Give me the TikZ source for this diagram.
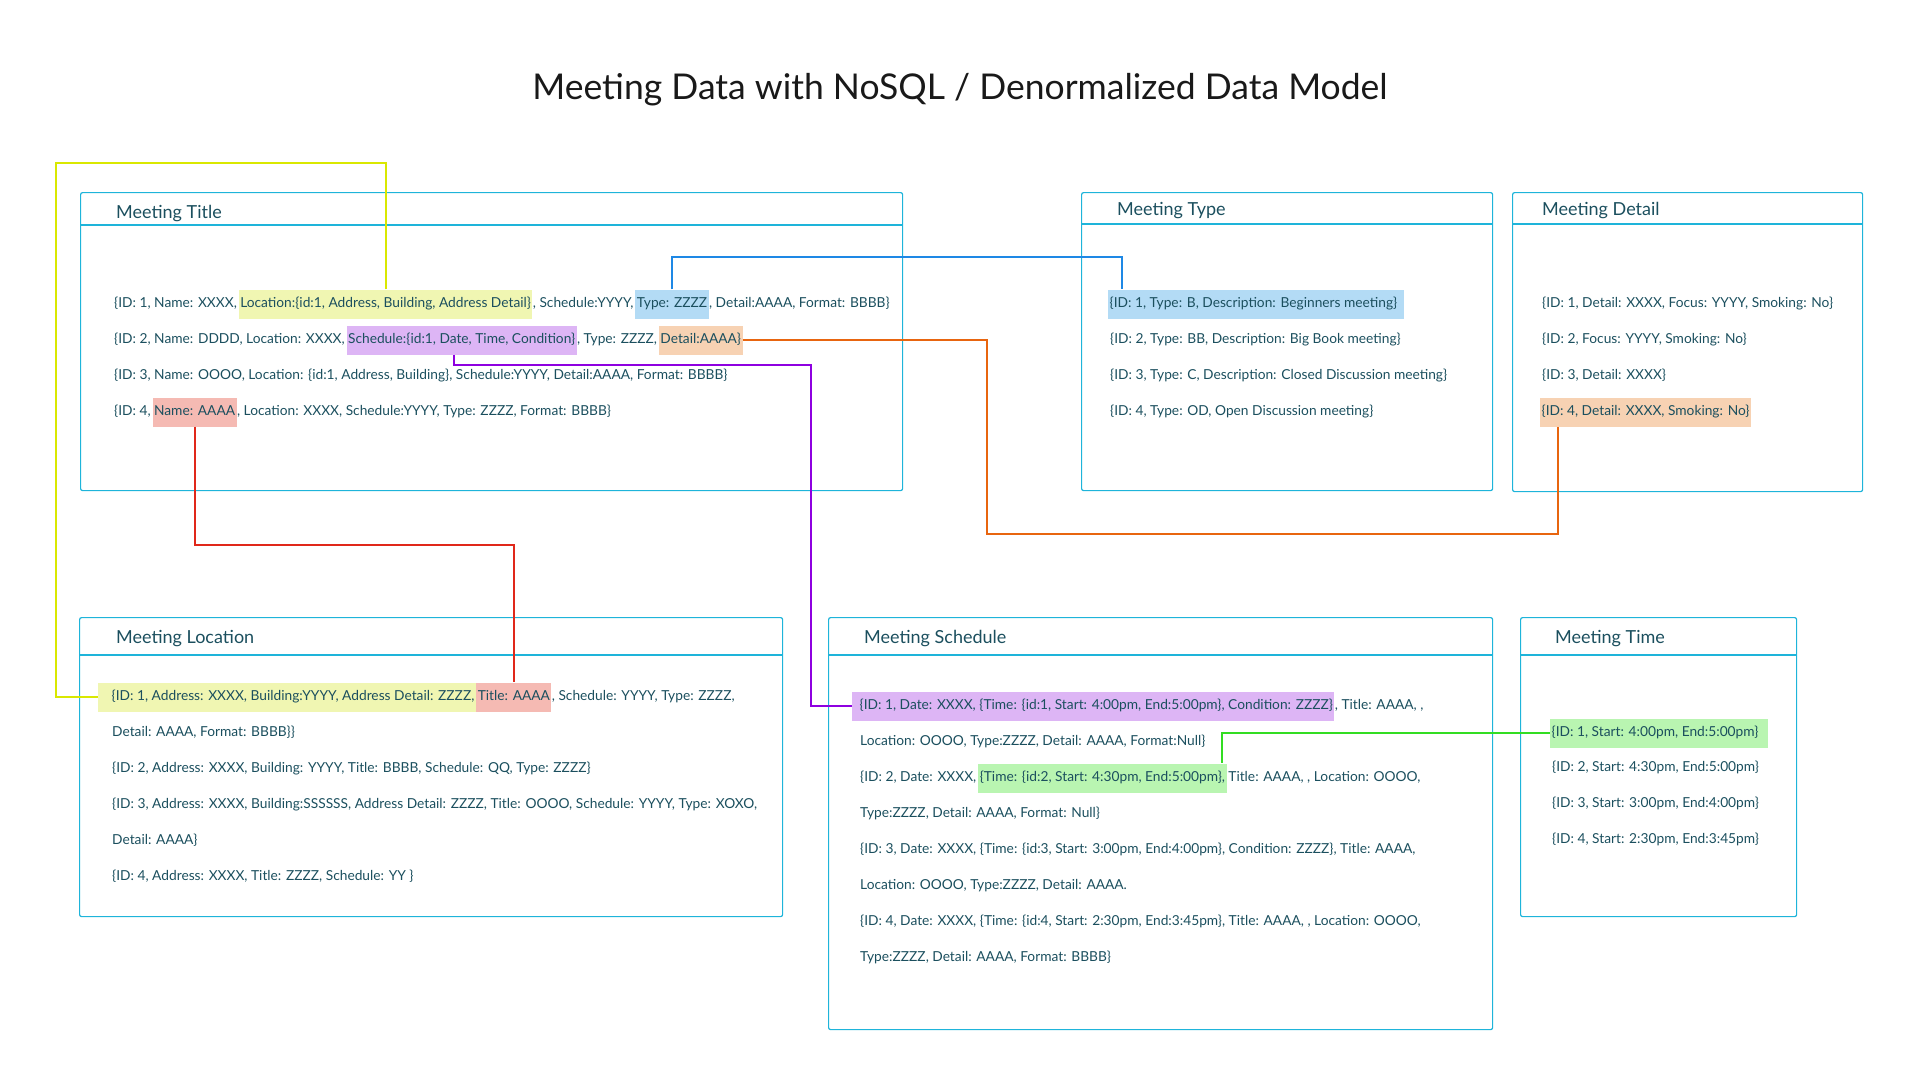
\documentclass[tikz,border=0pt]{standalone}
\usepackage{fontspec}
\setmainfont{Lato}
\usepackage{xcolor}
\usepackage{tikz}
\usetikzlibrary{positioning}

\definecolor{ink}{HTML}{1B4F5E}
\definecolor{frame}{HTML}{1EB4DA}
\definecolor{hlYellow}{HTML}{F0F6B2}
\definecolor{hlBlue}{HTML}{B3DBF5}
\definecolor{hlPurple}{HTML}{DDB5F5}
\definecolor{hlPeach}{HTML}{F7D2B3}
\definecolor{hlRed}{HTML}{F5BAB3}
\definecolor{hlGreen}{HTML}{B9F5B1}
\definecolor{lnYellow}{HTML}{D9E800}
\definecolor{lnBlue}{HTML}{1E88E5}
\definecolor{lnPurple}{HTML}{8E00E0}
\definecolor{lnOrange}{HTML}{E8650F}
\definecolor{lnRed}{HTML}{E0281A}
\definecolor{lnGreen}{HTML}{33DD22}

\begin{document}
\begin{tikzpicture}[
    x=1pt, y=-1pt,
    tablebox/.style={draw=frame, line width=1.2pt, rounded corners=2pt, anchor=north west, inner sep=0pt},
    boxtitle/.style={anchor=west, inner sep=0pt, font=\fontsize{18}{22}\selectfont, text=ink},
    rowtext/.style={anchor=west, inner sep=0pt, text height=11pt, text depth=3.5pt,
                    font=\fontsize{13.75}{17}\selectfont, text=ink},
    hilite/.style={rowtext, inner xsep=1.5pt, inner ysep=7.25pt},
    connector/.style={line width=1.8pt}
]
    \useasboundingbox (0,0) rectangle (1920,1080);

    \node[font=\fontsize{35.5}{42}\selectfont, text=black!90] (title) at (960,90)
        {Meeting Data with NoSQL / Denormalized Data Model};

    % tables
    \node[tablebox, minimum width=822pt, minimum height=298pt] (titleBox)    at (80,192)   {};
    \node[tablebox, minimum width=411pt, minimum height=298pt] (typeBox)     at (1081,192) {};
    \node[tablebox, minimum width=350pt, minimum height=299pt] (detailBox)   at (1512,192) {};
    \node[tablebox, minimum width=703pt, minimum height=299pt] (locationBox) at (79,617)   {};
    \node[tablebox, minimum width=664pt, minimum height=412pt] (scheduleBox) at (828,617)  {};
    \node[tablebox, minimum width=276pt, minimum height=299pt] (timeBox)     at (1520,617) {};
    \draw[frame, line width=1.2pt] ([yshift=-33pt]titleBox.north west)    -- ([yshift=-33pt]titleBox.north east);
    \draw[frame, line width=1.2pt] ([yshift=-32pt]typeBox.north west)     -- ([yshift=-32pt]typeBox.north east);
    \draw[frame, line width=1.2pt] ([yshift=-32pt]detailBox.north west)   -- ([yshift=-32pt]detailBox.north east);
    \draw[frame, line width=1.2pt] ([yshift=-38pt]locationBox.north west) -- ([yshift=-38pt]locationBox.north east);
    \draw[frame, line width=1.2pt] ([yshift=-38pt]scheduleBox.north west) -- ([yshift=-38pt]scheduleBox.north east);
    \draw[frame, line width=1.2pt] ([yshift=-38pt]timeBox.north west)     -- ([yshift=-38pt]timeBox.north east);

    \node[boxtitle] (titleHead)    at (116,214)  {Meeting Title};
    \node[boxtitle] (typeHead)     at (1117,211) {Meeting Type};
    \node[boxtitle] (detailHead)   at (1542,211) {Meeting Detail};
    \node[boxtitle] (locationHead) at (116,639)  {Meeting Location};
    \node[boxtitle] (scheduleHead) at (864,639)  {Meeting Schedule};
    \node[boxtitle] (timeHead)     at (1555,639) {Meeting Time};

    % Meeting Title rows
    \node[rowtext] (t1a) at (114,304) {\{ID: 1, Name: XXXX,};
    \node[hilite, fill=hlYellow, right=1.5pt of t1a] (tLoc) {Location:\{id:1, Address, Building, Address Detail\}};
    \node[rowtext, right=0pt of tLoc] (t1b) {, Schedule:YYYY,};
    \node[hilite, fill=hlBlue, right=1.5pt of t1b] (tType) {Type: ZZZZ};
    \node[rowtext, right=0pt of tType] (t1c) {, Detail:AAAA, Format: BBBB\}};
    \node[rowtext] (t2a) at (114,340) {\{ID: 2, Name: DDDD, Location: XXXX,};
    \node[hilite, fill=hlPurple, right=1.5pt of t2a] (tSched) {Schedule:\{id:1, Date, Time, Condition\}};
    \node[rowtext, right=0pt of tSched] (t2b) {, Type: ZZZZ,};
    \node[hilite, fill=hlPeach, right=1.5pt of t2b] (tDet) {Detail:AAAA\}};
    \node[rowtext] (t3) at (114,376) {\{ID: 3, Name: OOOO, Location: \{id:1, Address, Building\}, Schedule:YYYY, Detail:AAAA, Format: BBBB\}};
    \node[rowtext] (t4a) at (114,412) {\{ID: 4,};
    \node[hilite, fill=hlRed, right=1.5pt of t4a] (tName) {Name: AAAA};
    \node[rowtext, right=0pt of tName] (t4b) {, Location: XXXX, Schedule:YYYY, Type: ZZZZ, Format: BBBB\}};

    % Meeting Type rows
    \node[hilite, fill=hlBlue] (ty1) at (1108,304) {\{ID: 1, Type: B, Description: Beginners meeting\}\hspace*{5pt}};
    \node[rowtext] (ty2) at (1110,340) {\{ID: 2, Type: BB, Description: Big Book meeting\}};
    \node[rowtext] (ty3) at (1110,376) {\{ID: 3, Type: C, Description: Closed Discussion meeting\}};
    \node[rowtext] (ty4) at (1110,412) {\{ID: 4, Type: OD, Open Discussion meeting\}};

    % Meeting Detail rows
    \node[rowtext] (d1) at (1542,304) {\{ID: 1, Detail: XXXX, Focus: YYYY, Smoking: No\}};
    \node[rowtext] (d2) at (1542,340) {\{ID: 2, Focus: YYYY, Smoking: No\}};
    \node[rowtext] (d3) at (1542,376) {\{ID: 3, Detail: XXXX\}};
    \node[hilite, fill=hlPeach] (d4) at (1540,412) {\{ID: 4, Detail: XXXX, Smoking: No\}};

    % Meeting Location rows
    \node[hilite, fill=hlYellow] (lAddr) at (98,697) {\hspace*{12pt}\{ID: 1, Address: XXXX, Building:YYYY, Address Detail: ZZZZ,};
    \node[hilite, fill=hlRed, right=0pt of lAddr] (lTitle) {Title: AAAA};
    \node[rowtext, right=0pt of lTitle] (l1b) {, Schedule: YYYY, Type: ZZZZ,};
    \node[rowtext] (l2) at (112,733) {Detail: AAAA, Format: BBBB\}\}};
    \node[rowtext] (l3) at (112,769) {\{ID: 2, Address: XXXX, Building: YYYY, Title: BBBB, Schedule: QQ, Type: ZZZZ\}};
    \node[rowtext] (l4) at (112,805) {\{ID: 3, Address: XXXX, Building:SSSSSS, Address Detail: ZZZZ, Title: OOOO, Schedule: YYYY, Type: XOXO,};
    \node[rowtext] (l5) at (112,841) {Detail: AAAA\}};
    \node[rowtext] (l6) at (112,877) {\{ID: 4, Address: XXXX, Title: ZZZZ, Schedule: YY \}};

    % Meeting Schedule rows
    \node[hilite, fill=hlPurple] (sTime) at (852,706) {\hspace*{6pt}\{ID: 1, Date: XXXX, \{Time: \{id:1, Start: 4:00pm, End:5:00pm\}, Condition: ZZZZ\}};
    \node[rowtext, right=0pt of sTime] (s1b) {, Title: AAAA, ,};
    \node[rowtext] (s2) at (860,742) {Location: OOOO, Type:ZZZZ, Detail: AAAA, Format:Null\}};
    \node[rowtext] (s3a) at (860,778) {\{ID: 2, Date: XXXX,};
    \node[hilite, fill=hlGreen, right=1.5pt of s3a] (sTime2) {\{Time: \{id:2, Start: 4:30pm, End:5:00pm\},};
    \node[rowtext, right=1.5pt of sTime2] (s3b) {Title: AAAA, , Location: OOOO,};
    \node[rowtext] (s4) at (860,814) {Type:ZZZZ, Detail: AAAA, Format: Null\}};
    \node[rowtext] (s5) at (860,850) {\{ID: 3, Date: XXXX, \{Time: \{id:3, Start: 3:00pm, End:4:00pm\}, Condition: ZZZZ\}, Title: AAAA,};
    \node[rowtext] (s6) at (860,886) {Location: OOOO, Type:ZZZZ, Detail: AAAA.};
    \node[rowtext] (s7) at (860,922) {\{ID: 4, Date: XXXX, \{Time: \{id:4, Start: 2:30pm, End:3:45pm\}, Title: AAAA, , Location: OOOO,};
    \node[rowtext] (s8) at (860,958) {Type:ZZZZ, Detail: AAAA, Format: BBBB\}};

    % Meeting Time rows
    \node[hilite, fill=hlGreen] (m1) at (1550,733) {\{ID: 1, Start: 4:00pm, End:5:00pm\}\hspace*{8pt}};
    \node[rowtext] (m2) at (1552,768) {\{ID: 2, Start: 4:30pm, End:5:00pm\}};
    \node[rowtext] (m3) at (1552,804) {\{ID: 3, Start: 3:00pm, End:4:00pm\}};
    \node[rowtext] (m4) at (1552,840) {\{ID: 4, Start: 2:30pm, End:3:45pm\}};

    % links
    \coordinate (yelTop) at (56,163);
    \coordinate (purBend) at (811,706);
    \coordinate (orBend) at (987,534);
    \draw[connector, lnYellow] (tLoc.north) |- (yelTop) |- (lAddr.west);
    \draw[connector, lnRed] (tName.south) -- ++(0,118) -| (lTitle.north);
    \draw[connector, lnBlue] (tType.north) -- ++(0,-32) -| ([xshift=14pt]ty1.north west);
    \draw[connector, lnPurple] ([xshift=-8pt]tSched.south) -- ++(0,10) -| (purBend) |- (sTime.west);
    \draw[connector, lnOrange] (tDet.east) -| (orBend) -| ([xshift=18pt]d4.south west);
    \draw[connector, lnGreen] (m1.west) -| ([xshift=-5pt]sTime2.north east);
\end{tikzpicture}
\end{document}
